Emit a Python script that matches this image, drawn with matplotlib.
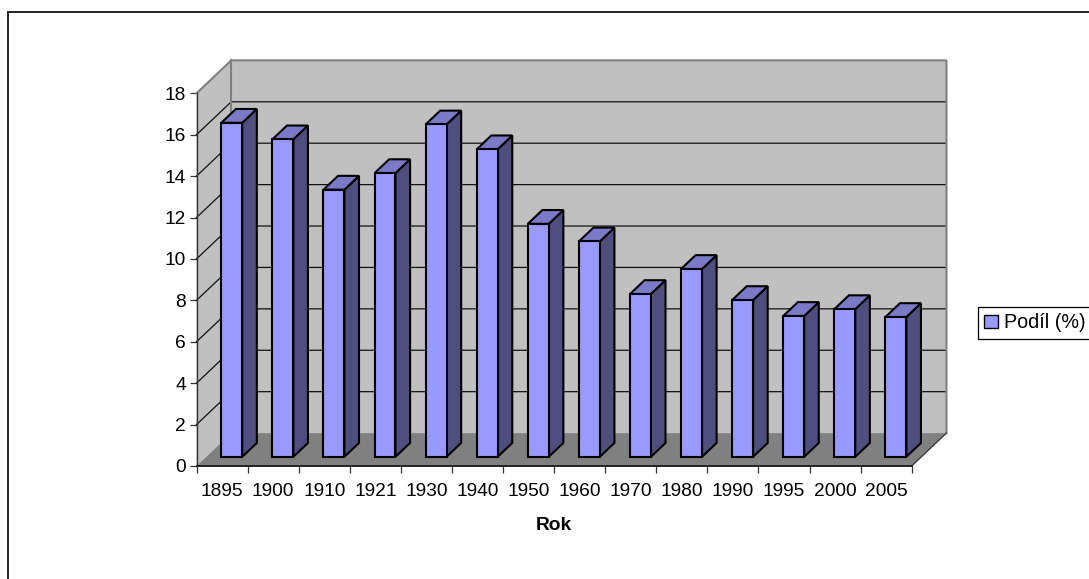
import matplotlib
matplotlib.use('Agg')
import matplotlib.pyplot as plt
from matplotlib.lines import Line2D
from matplotlib.patches import Patch

plt.rcParams['font.family'] = ['Liberation Sans', 'DejaVu Sans']

years = ['1895', '1900', '1910', '1921', '1930', '1940', '1950',
         '1960', '1970', '1980', '1990', '1995', '2000', '2005']
podil = [16.13, 15.33, 12.9, 13.7, 16.05, 14.85, 11.25,
         10.4, 7.86, 9.07, 7.57, 6.8, 7.13, 6.75]
y_ticks = [0, 2, 4, 6, 8, 10, 12, 14, 16, 18]

# size of the fake 3D depth, in data units
depth_x = 0.68
depth_y = 1.59
bar_width = 0.41
bar_front = 0.28
bar_back = 0.70

face_color = '#9999FF'
top_color = '#7A7AC6'
side_color = '#4F4F7F'
wall_color = '#C0C0C0'
floor_color = '#808080'
edge_grey = '#808080'
font_size = 13.8


def proj(x, y, d):
    # depth d goes from 0 (front) to 1 (back wall)
    return x + d * depth_x, y + d * depth_y


def poly(ax, pts, color, edge='none', lw=0, z=1):
    xs = [p[0] for p in pts]
    ys = [p[1] for p in pts]
    ax.fill(xs, ys, facecolor=color, edgecolor=edge, linewidth=lw, zorder=z,
            clip_on=False, joinstyle='miter')


W, H = 1089, 579
fig = plt.figure(figsize=(W / 100, H / 100), dpi=100, facecolor='white')
ax = fig.add_axes([196.5 / W, (H - 466) / H, 715.2 / W, 372.7 / H])
n = len(years)
ax.set_xlim(0, n)
ax.set_ylim(0, 18)
ax.patch.set_visible(False)

# back wall, side wall, floor
ymax = y_ticks[-1]
poly(ax, [proj(0, 0, 1), proj(n, 0, 1), proj(n, ymax, 1), proj(0, ymax, 1)], wall_color)
poly(ax, [proj(0, 0, 0), proj(0, 0, 1), proj(0, ymax, 1), proj(0, ymax, 0)], wall_color)
poly(ax, [proj(0, 0, 0), proj(n, 0, 0), proj(n, 0, 1), proj(0, 0, 1)], floor_color)

# gridlines on both walls
for v in y_ticks[1:-1]:
    a = proj(0, v, 0)
    b = proj(0, v, 1)
    c = proj(n, v, 1)
    ax.plot([a[0], b[0], c[0]], [a[1], b[1], c[1]], color='#111111', lw=0.9,
            zorder=2, clip_on=False)

# wall outline
a = proj(0, ymax, 0)
b = proj(0, ymax, 1)
c = proj(n, ymax, 1)
d = proj(n, 0, 1)
ax.plot([a[0], b[0], c[0], d[0]], [a[1], b[1], c[1], d[1]], color=edge_grey, lw=1.5,
        zorder=2, clip_on=False)
e = proj(0, 0, 1)
ax.plot([e[0], e[0]], [e[1], b[1]], color=edge_grey, lw=1.5, zorder=2, clip_on=False)
f = proj(n, 0, 0)
ax.plot([f[0], d[0]], [f[1], d[1]], color='#333333', lw=0.9, zorder=2, clip_on=False)

# bars
for i, v in enumerate(podil):
    x0 = i + 0.5 - bar_width / 2
    x1 = i + 0.5 + bar_width / 2
    poly(ax, [proj(x1, 0, bar_front), proj(x1, 0, bar_back),
              proj(x1, v, bar_back), proj(x1, v, bar_front)],
         side_color, 'black', 1.5, 3 + i * 0.01)
    poly(ax, [proj(x0, v, bar_front), proj(x1, v, bar_front),
              proj(x1, v, bar_back), proj(x0, v, bar_back)],
         top_color, 'black', 1.5, 3 + i * 0.01)
    poly(ax, [proj(x0, 0, bar_front), proj(x1, 0, bar_front),
              proj(x1, v, bar_front), proj(x0, v, bar_front)],
         face_color, 'black', 1.5, 3 + i * 0.01)

for s in ['top', 'right']:
    ax.spines[s].set_visible(False)
ax.spines['left'].set_color('#333333')
ax.spines['left'].set_linewidth(1.0)
ax.spines['bottom'].set_color('#222222')
ax.spines['bottom'].set_linewidth(1.4)
ax.spines['left'].set_zorder(6)
ax.spines['bottom'].set_zorder(6)

ax.set_yticks(y_ticks)
ax.set_xticks(range(n + 1))
ax.set_xticklabels([])
ax.tick_params(axis='y', direction='out', length=5, width=0.9, labelsize=font_size,
               pad=2.5, color='#333333')
ax.tick_params(axis='x', direction='out', length=5, width=0.9, color='#333333')

for i, yr in enumerate(years):
    ax.annotate(yr, (i + 0.5, 0), xytext=(0, -25), textcoords='offset pixels',
                ha='center', va='center', fontsize=font_size, color='black',
                annotation_clip=False)
ax.annotate('Rok', (n / 2, 0), xytext=(0, -59), textcoords='offset pixels',
            ha='center', va='center', fontsize=font_size, fontweight='bold',
            annotation_clip=False)

# legend sits against the right edge, box runs off the picture
leg = fig.legend(handles=[Patch(facecolor=face_color, edgecolor='black', linewidth=1.0,
                                label='Podíl (%)')],
                 loc='center left', bbox_to_anchor=(977.7 / W, (H - 323) / H),
                 fontsize=14.2, fancybox=False, framealpha=1, edgecolor='black',
                 borderaxespad=0, handlelength=0.68, handleheight=0.68,
                 handletextpad=0.3, borderpad=0.33)
leg.get_frame().set_linewidth(0.9)

# outer chart frame: only left and top edges are visible in the picture
fig.add_artist(Line2D([7.5 / W, 7.5 / W], [0, (H - 12) / H], color='#222222', lw=1.4))
fig.add_artist(Line2D([7.5 / W, 1], [(H - 12) / H, (H - 12) / H], color='#222222', lw=1.4))

fig.savefig('out.png', dpi=100)
